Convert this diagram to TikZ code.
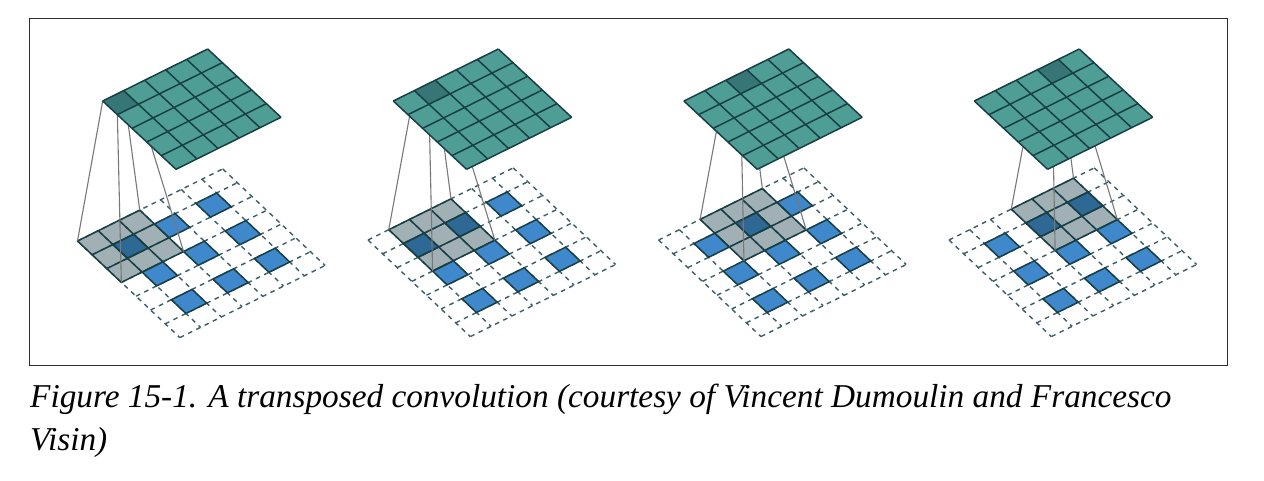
\documentclass[tikz,border=0pt]{standalone}
\usepackage{fontspec}
\setmainfont{Liberation Serif}
\usetikzlibrary{calc}
\definecolor{frameC}{RGB}{45,45,45}
\definecolor{tealC}{RGB}{79,158,150}
\definecolor{blueC}{RGB}{63,136,204}
\definecolor{lineC}{RGB}{24,64,68}
\definecolor{dashC}{RGB}{60,95,105}
\definecolor{overC}{RGB}{21,59,71}
\definecolor{linkC}{RGB}{120,120,120}
\tikzset{
  topgrid/.style={draw=lineC,line width=1.5pt,line join=miter},
  topfill/.style={fill=tealC},
  dashgrid/.style={draw=dashC,line width=1.4pt,dash pattern=on 4.6pt off 4.6pt},
  bluecell/.style={draw=lineC,line width=1.5pt,fill=blueC},
  overlay/.style={fill=overC,fill opacity=0.4},
  activecell/.style={fill=overC,fill opacity=0.4},
  kernelgrid/.style={draw=lineC,line width=1.5pt,line cap=round},
  linkline/.style={draw=linkC,line width=1.1pt},
  framebox/.style={draw=frameC,line width=1pt},
  captionline/.style={anchor=base west,inner sep=0pt,font=\fontsize{33.3pt}{38pt}\selectfont\itshape,text=black}
}
% #1 panel id, #2 #3 bottom grid left corner, #4 #5 top grid left corner, #6 kernel offset
\newcommand{\panelart}[6]{%
  \begin{scope}[shift={(#2,#3)},x={(20.75pt,10.3pt)},y={(14.62pt,-13.8pt)}]
    \foreach \k in {0,...,7} {
      \draw[dashgrid] (0,\k) -- (7,\k);
      \draw[dashgrid] (\k,0) -- (\k,7);
    }
    \foreach \a in {1,3,5} \foreach \b in {1,3,5}
      \draw[bluecell] (\a,\b) -- ++(1,0) -- ++(0,1) -- ++(-1,0) -- cycle;
    \coordinate (k#1a) at (#6,0);
    \coordinate (k#1b) at ($(#6,0)+(3,0)$);
    \coordinate (k#1c) at ($(#6,0)+(3,3)$);
    \coordinate (k#1d) at ($(#6,0)+(0,3)$);
    \fill[overlay] (k#1a) -- (k#1b) -- (k#1c) -- (k#1d) -- cycle;
    \foreach \k in {0,...,3} {
      \draw[kernelgrid] ($(#6,0)+(0,\k)$) -- ($(#6,0)+(3,\k)$);
      \draw[kernelgrid] ($(#6,0)+(\k,0)$) -- ($(#6,0)+(\k,3)$);
    }
  \end{scope}
  \begin{scope}[shift={(#4,#5)},x={(21pt,10.4pt)},y={(14.66pt,-13.66pt)}]
    \coordinate (t#1a) at (#6,0);
    \coordinate (t#1b) at ($(#6,0)+(1,0)$);
    \coordinate (t#1c) at ($(#6,0)+(1,1)$);
    \coordinate (t#1d) at ($(#6,0)+(0,1)$);
  \end{scope}
  \draw[linkline] (t#1a) -- (k#1a);
  \draw[linkline] (t#1b) -- (k#1b);
  \draw[linkline] (t#1c) -- (k#1c);
  \draw[linkline] (t#1d) -- (k#1d);
  \begin{scope}[shift={(#4,#5)},x={(21pt,10.4pt)},y={(14.66pt,-13.66pt)}]
    \fill[topfill] (0,0) -- (5,0) -- (5,5) -- (0,5) -- cycle;
    \fill[activecell] (t#1a) -- (t#1b) -- (t#1c) -- (t#1d) -- cycle;
    \foreach \k in {0,...,5} {
      \draw[topgrid] (0,\k) -- (5,\k);
      \draw[topgrid] (\k,0) -- (\k,5);
    }
  \end{scope}
}
\begin{document}
\begin{tikzpicture}[x=1pt,y=-1pt]
  \useasboundingbox (0,0) rectangle (1264,480);
  \fill[white] (0,0) rectangle (1264,480);
  \draw[framebox] (29.5,18) rectangle (1227,365);
  \panelart{1}{77.5}{241}{102.7}{101}{0}
  \panelart{2}{368}{240}{393.3}{101}{1}
  \panelart{3}{658.6}{240}{683.9}{101}{2}
  \panelart{4}{949}{240}{974.3}{101}{3}
  \node[captionline] (capA) at (30,407) {Figure 15-1. A transposed convolution (courtesy of Vincent Dumoulin and Francesco};
  \node[captionline] (capB) at (30,450) {Visin)};
\end{tikzpicture}
\end{document}
